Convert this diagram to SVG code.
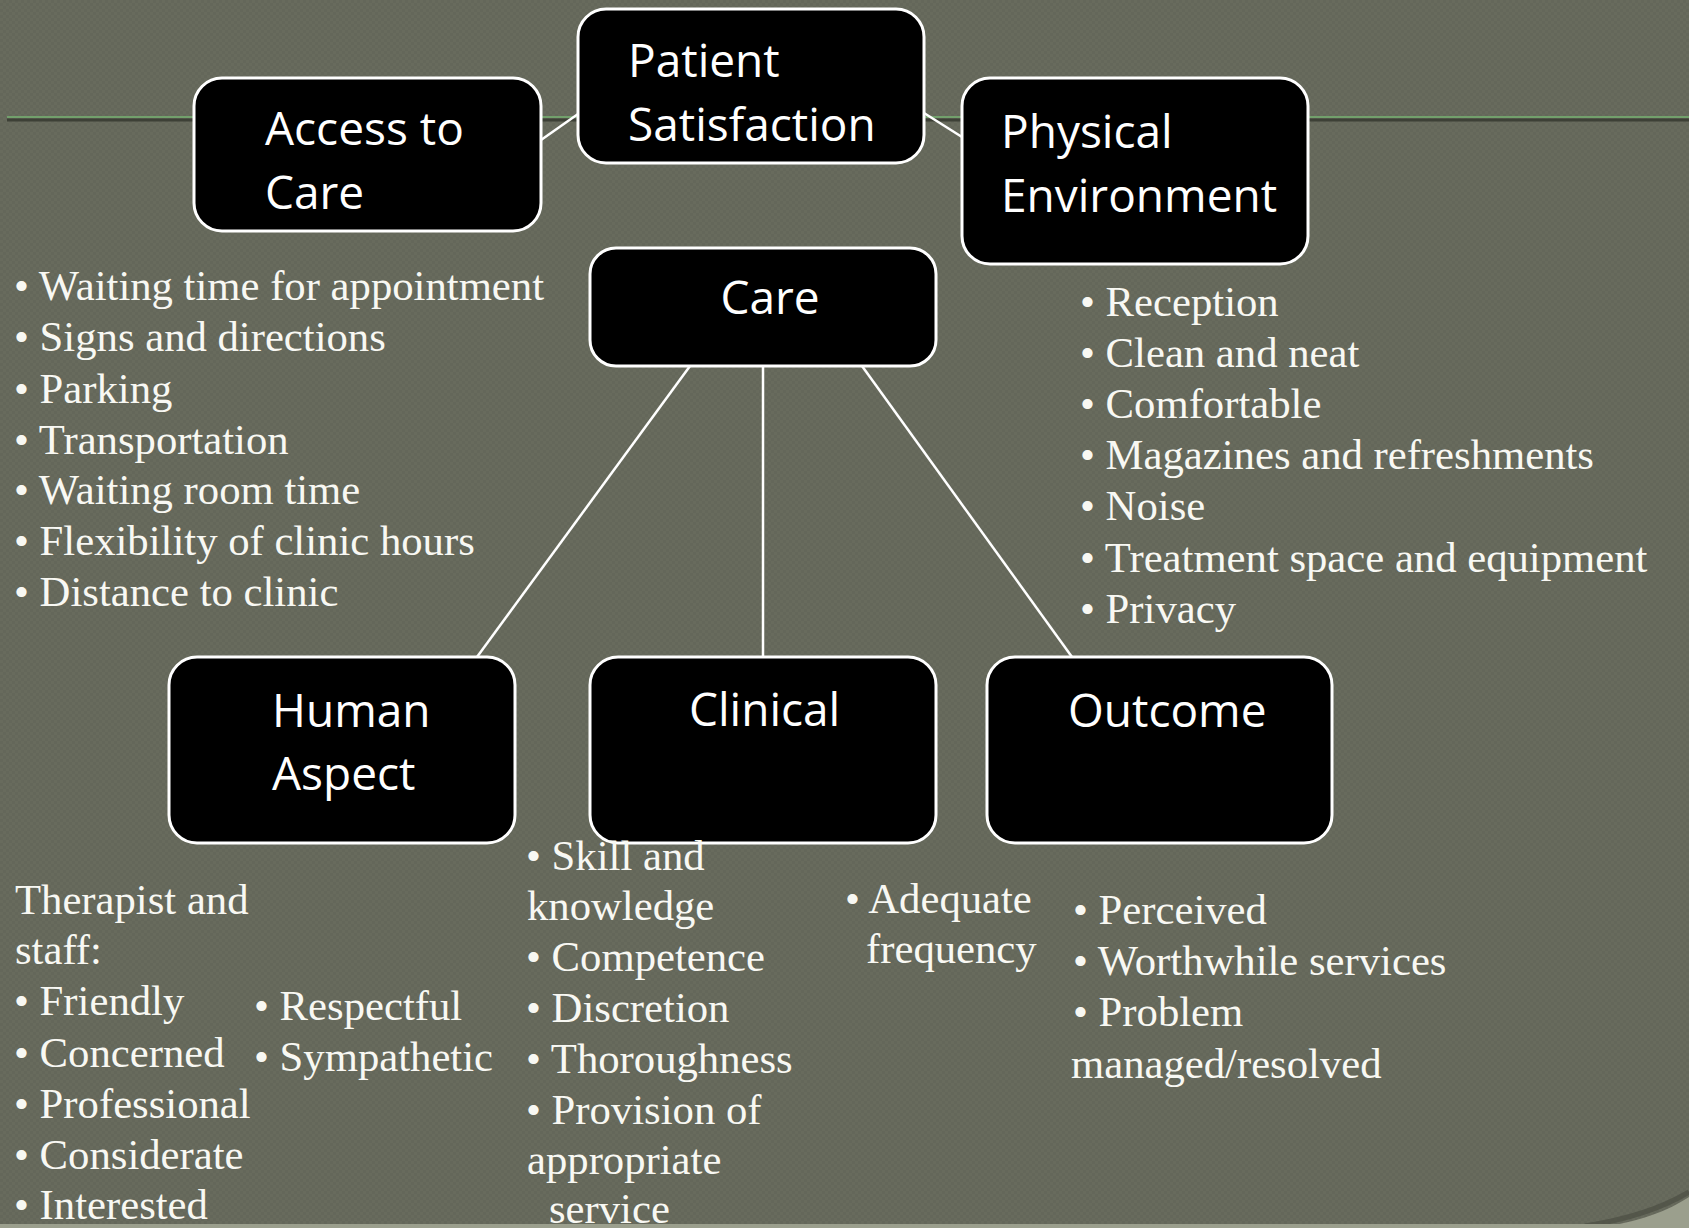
<svg xmlns="http://www.w3.org/2000/svg" width="1689" height="1228" viewBox="0 0 1689 1228">
  <style>
    .box { fill: #000000; stroke: #ffffff; stroke-width: 3; }
    .lbl { font-family: "Open Sans", "Noto Sans", "Liberation Sans", sans-serif; font-size: 46px; fill: #ffffff; }
    .lst { font-family: "Liberation Serif", "Times New Roman", serif; font-size: 42.7px; fill: #f8f8f3; }
    .link { stroke: #ffffff; stroke-width: 2.5; fill: none; }
  </style>
  <defs>
    <pattern id="weave" width="6" height="6" patternUnits="userSpaceOnUse">
      <rect width="6" height="6" fill="#64675a"/>
      <rect width="3" height="3" fill="#686b5d"/>
      <rect x="3" y="3" width="3" height="3" fill="#686b5d"/>
    </pattern>
  </defs>

  <!-- backdrop -->
  <rect width="1689" height="1228" fill="url(#weave)"/>

  <!-- title rule -->
  <line x1="7" y1="120" x2="1689" y2="120" stroke="#3d4036" stroke-width="3"/>
  <line x1="7" y1="117" x2="1689" y2="117" stroke="#72a06c" stroke-width="2"/>

  <!-- connectors -->
  <g id="connectors">
    <line class="link" x1="541" y1="140" x2="578" y2="114"/>
    <line class="link" x1="924" y1="113" x2="962" y2="137"/>
    <line class="link" x1="690" y1="366" x2="477" y2="657"/>
    <line class="link" x1="763" y1="366" x2="763" y2="657"/>
    <line class="link" x1="862" y1="366" x2="1072" y2="657"/>
  </g>

  <!-- nodes -->
  <g id="patient-satisfaction">
    <rect class="box" x="578" y="9" width="346" height="154" rx="28"/>
    <text class="lbl" x="628" y="77">Patient</text>
    <text class="lbl" x="628" y="141">Satisfaction</text>
  </g>
  <g id="access-to-care">
    <rect class="box" x="194" y="78" width="347" height="153" rx="28"/>
    <text class="lbl" x="265" y="145">Access to</text>
    <text class="lbl" x="265" y="209">Care</text>
  </g>
  <g id="physical-environment">
    <rect class="box" x="962" y="78" width="346" height="186" rx="28"/>
    <text class="lbl" x="1001" y="148">Physical</text>
    <text class="lbl" x="1001" y="212">Environment</text>
  </g>
  <g id="care">
    <rect class="box" x="590" y="248" width="346" height="118" rx="26"/>
    <text class="lbl" x="770" y="314" text-anchor="middle">Care</text>
  </g>
  <g id="human-aspect">
    <rect class="box" x="169" y="657" width="346" height="186" rx="28"/>
    <text class="lbl" x="272" y="727">Human</text>
    <text class="lbl" x="272" y="790">Aspect</text>
  </g>
  <g id="clinical">
    <rect class="box" x="590" y="657" width="346" height="186" rx="28"/>
    <text class="lbl" x="689" y="726">Clinical</text>
  </g>
  <g id="outcome">
    <rect class="box" x="987" y="657" width="345" height="186" rx="28"/>
    <text class="lbl" x="1068" y="727">Outcome</text>
  </g>

  <!-- access to care items -->
  <g id="access-items" class="lst">
    <text x="14" y="300">• Waiting time for appointment</text>
    <text x="14" y="351">• Signs and directions</text>
    <text x="14" y="403">• Parking</text>
    <text x="14" y="454">• Transportation</text>
    <text x="14" y="504">• Waiting room time</text>
    <text x="14" y="555">• Flexibility of clinic hours</text>
    <text x="14" y="606">• Distance to clinic</text>
  </g>

  <!-- physical environment items -->
  <g id="environment-items" class="lst">
    <text x="1080" y="316">• Reception</text>
    <text x="1080" y="367">• Clean and neat</text>
    <text x="1080" y="418">• Comfortable</text>
    <text x="1080" y="469">• Magazines and refreshments</text>
    <text x="1080" y="520">• Noise</text>
    <text x="1080" y="572">• Treatment space and equipment</text>
    <text x="1080" y="623">• Privacy</text>
  </g>

  <!-- human aspect items -->
  <g id="human-items" class="lst">
    <text x="15" y="914">Therapist and</text>
    <text x="15" y="964">staff:</text>
    <text x="14" y="1015">• Friendly</text>
    <text x="14" y="1067">• Concerned</text>
    <text x="14" y="1118">• Professional</text>
    <text x="14" y="1169">• Considerate</text>
    <text x="14" y="1219">• Interested</text>
    <text x="254" y="1020">• Respectful</text>
    <text x="254" y="1071">• Sympathetic</text>
  </g>

  <!-- clinical items -->
  <g id="clinical-items" class="lst">
    <text x="526" y="870">• Skill and</text>
    <text x="527" y="920">knowledge</text>
    <text x="526" y="971">• Competence</text>
    <text x="526" y="1022">• Discretion</text>
    <text x="526" y="1073">• Thoroughness</text>
    <text x="526" y="1124">• Provision of</text>
    <text x="527" y="1174">appropriate</text>
    <text x="549" y="1223">service</text>
    <text x="845" y="913">• Adequate</text>
    <text x="866" y="963">frequency</text>
  </g>

  <!-- outcome items -->
  <g id="outcome-items" class="lst">
    <text x="1073" y="924">• Perceived</text>
    <text x="1073" y="975">• Worthwhile services</text>
    <text x="1073" y="1026">• Problem</text>
    <text x="1071" y="1078">managed/resolved</text>
  </g>

  <!-- lower frame edge -->
  <path d="M1585,1226 C1630,1219 1664,1207 1689,1192" stroke="#4b4e43" stroke-width="5" fill="none" opacity="0.7"/>
  <path d="M1598,1228 C1638,1222 1668,1211 1689,1197 L1689,1228 Z" fill="#9b9f8d"/>
  <rect x="0" y="1224" width="1689" height="4" fill="#9b9f8d"/>
</svg>
